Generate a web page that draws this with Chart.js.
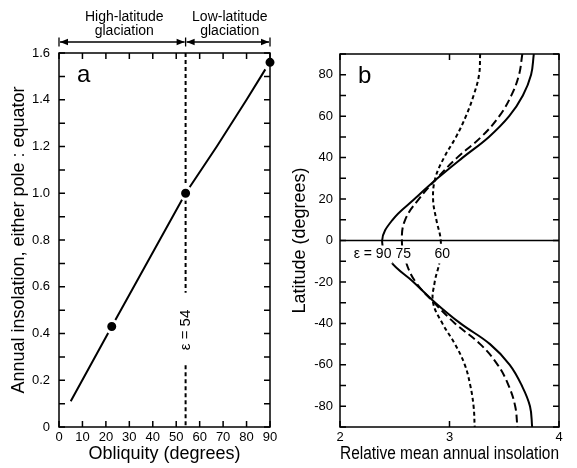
<!DOCTYPE html>
<html>
<head>
<meta charset="utf-8">
<script src="https://cdn.jsdelivr.net/npm/chart.js@4.4.0/dist/chart.umd.min.js"></script>
<style>
  html, body { margin: 0; padding: 0; background: #fff; }
  #wrap { position: relative; width: 577px; height: 468px; }
  #chartA { position: absolute; left: 0; top: 0; }
  #chartB { position: absolute; left: 285px; top: 0; }
</style>
</head>
<body>
<div id="wrap">
  <canvas id="chartA" width="285" height="468"></canvas>
  <canvas id="chartB" width="292" height="468"></canvas>
</div>
<script>
// panel a - pole:equator annual insolation vs obliquity
const obliquity = [5, 22.5, 54, 67.3, 80, 88];
const poleEquatorRatio = [0.11, 0.43, 1.0, 1.2, 1.4, 1.53];
const markedObliquity = [22.5, 54, 90];
const markedRatio = [0.43, 1.0, 1.56];
const criticalObliquity = 54;
const regimeBounds = [0, 54, 90];
const regimeLabels = [['High-latitude', 'glaciation'], ['Low-latitude', 'glaciation']];

// panel b - relative mean annual insolation vs latitude
const latitudes = [90, 80, 70, 60, 50, 40, 30, 20, 10, 0, -10, -20, -30, -40, -50, -60, -70, -80, -90];
const insolEps90 = [3.77, 3.745, 3.67, 3.545, 3.36, 3.12, 2.89, 2.68, 2.48, 2.385, 2.46, 2.67, 2.87, 3.10, 3.37, 3.55, 3.66, 3.735, 3.755];
const insolEps75 = [3.665, 3.635, 3.565, 3.455, 3.29, 3.07, 2.885, 2.72, 2.595, 2.565, 2.60, 2.69, 2.86, 3.05, 3.28, 3.44, 3.54, 3.60, 3.62];
const insolEps60 = [3.28, 3.27, 3.22, 3.15, 3.06, 2.95, 2.87, 2.85, 2.88, 2.92, 2.91, 2.865, 2.85, 2.935, 3.05, 3.14, 3.19, 3.22, 3.23];
const epsLabels = ['90', '75', '60'];

const FONT = '"Liberation Sans", Arial, Helvetica, sans-serif';
Chart.defaults.font.family = FONT;
Chart.defaults.color = '#000';

// box + inward ticks on all four sides
function drawFrame(chart) {
  const { ctx, chartArea: a, scales: { x, y } } = chart;
  const len = 6;
  ctx.save();
  ctx.strokeStyle = '#000';
  ctx.lineWidth = 1.5;
  ctx.strokeRect(a.left, a.top, a.width, a.height);
  ctx.beginPath();
  x.ticks.forEach(t => {
    const px = x.getPixelForValue(t.value);
    ctx.moveTo(px, a.bottom); ctx.lineTo(px, a.bottom - len);
    ctx.moveTo(px, a.top); ctx.lineTo(px, a.top + len);
  });
  y.ticks.forEach(t => {
    const py = y.getPixelForValue(t.value);
    ctx.moveTo(a.left, py); ctx.lineTo(a.left + len, py);
    ctx.moveTo(a.right, py); ctx.lineTo(a.right - len, py);
  });
  ctx.stroke();
  ctx.restore();
}

function panelLetter(chart, letter) {
  const { ctx, chartArea: a } = chart;
  ctx.save();
  ctx.font = '24px ' + FONT;
  ctx.fillStyle = '#000';
  ctx.textAlign = 'left';
  ctx.textBaseline = 'alphabetic';
  ctx.fillText(letter, a.left + 18, a.top + 28.5);
  ctx.restore();
}

const panelAPlugin = {
  id: 'panelA',
  beforeDatasetsDraw(chart) {
    const { ctx, chartArea: a, scales: { x, y } } = chart;
    const px = x.getPixelForValue(criticalObliquity);
    const labelY = y.getPixelForValue(0.415);
    const text = 'ε = ' + criticalObliquity;
    ctx.save();
    ctx.font = '15px ' + FONT;
    const half = ctx.measureText(text).width / 2;
    // dashed line, broken around the label
    ctx.strokeStyle = '#000';
    ctx.lineWidth = 2;
    ctx.setLineDash([4, 3]);
    ctx.beginPath();
    ctx.moveTo(px, a.top); ctx.lineTo(px, labelY - half - 17);
    ctx.moveTo(px, labelY + half + 15); ctx.lineTo(px, a.bottom);
    ctx.stroke();
    ctx.setLineDash([]);
    // rotated label
    ctx.translate(px, labelY);
    ctx.rotate(-Math.PI / 2);
    ctx.fillStyle = '#000';
    ctx.textAlign = 'center';
    ctx.textBaseline = 'middle';
    ctx.fillText(text, 0, 0);
    ctx.restore();
  },
  afterDatasetsDraw(chart) {
    drawFrame(chart);
    panelLetter(chart, 'a');
  },
  afterDraw(chart) {
    const { ctx, scales: { x } } = chart;
    const yLine = 42, cap = 4.5, head = 8, headW = 3.2;
    const px = regimeBounds.map(v => x.getPixelForValue(v));
    ctx.save();
    ctx.strokeStyle = '#000';
    ctx.fillStyle = '#000';
    ctx.lineWidth = 1.3;
    px.forEach(p => {
      ctx.beginPath(); ctx.moveTo(p, yLine - cap); ctx.lineTo(p, yLine + cap); ctx.stroke();
    });
    ctx.font = '14px ' + FONT;
    ctx.textAlign = 'center';
    ctx.textBaseline = 'alphabetic';
    for (let i = 0; i < px.length - 1; i++) {
      const l = px[i] + 1, r = px[i + 1] - 1;
      ctx.beginPath(); ctx.moveTo(l, yLine); ctx.lineTo(r, yLine); ctx.stroke();
      ctx.beginPath(); ctx.moveTo(l, yLine); ctx.lineTo(l + head, yLine - headW); ctx.lineTo(l + head, yLine + headW); ctx.closePath(); ctx.fill();
      ctx.beginPath(); ctx.moveTo(r, yLine); ctx.lineTo(r - head, yLine - headW); ctx.lineTo(r - head, yLine + headW); ctx.closePath(); ctx.fill();
      const cx = (px[i] + px[i + 1]) / 2 + 2;
      ctx.fillText(regimeLabels[i][0], cx, 21);
      ctx.fillText(regimeLabels[i][1], cx, 35);
    }
    ctx.restore();
  }
};

const panelBPlugin = {
  id: 'panelB',
  beforeDatasetsDraw(chart) {
    const { ctx, chartArea: a, scales: { y } } = chart;
    const py = y.getPixelForValue(0);
    ctx.save();
    ctx.strokeStyle = '#000';
    ctx.lineWidth = 1.3;
    ctx.beginPath(); ctx.moveTo(a.left, py); ctx.lineTo(a.right, py); ctx.stroke();
    ctx.restore();
  },
  afterDatasetsDraw(chart) {
    const { ctx, scales: { x, y } } = chart;
    const i0 = latitudes.indexOf(0);
    const series = [insolEps90, insolEps75, insolEps60];
    const ly = y.getPixelForValue(0) + 14;
    ctx.save();
    ctx.font = '14px ' + FONT;
    ctx.textBaseline = 'middle';
    let firstLeft = null;
    series.forEach((s, k) => {
      const cx = x.getPixelForValue(s[i0]) + 1.5;
      const w = ctx.measureText(epsLabels[k]).width;
      ctx.fillStyle = '#fff';
      ctx.fillRect(cx - w / 2 - 1, ly - 9, w + 2, 18);
      ctx.fillStyle = '#000';
      ctx.textAlign = 'center';
      ctx.fillText(epsLabels[k], cx, ly);
      if (k === 0) firstLeft = cx - w / 2;
    });
    ctx.textAlign = 'right';
    ctx.fillText('ε = ', firstLeft, ly);
    ctx.restore();
    drawFrame(chart);
    panelLetter(chart, 'b');
  }
};

new Chart(document.getElementById('chartA'), {
  type: 'line',
  data: {
    datasets: [
      {
        data: markedObliquity.map((v, i) => ({ x: v, y: markedRatio[i] })),
        showLine: false,
        pointRadius: 6,
        pointBackgroundColor: '#000',
        pointBorderColor: '#fff',
        pointBorderWidth: 3,
        clip: false
      },
      {
        data: obliquity.map((v, i) => ({ x: v, y: poleEquatorRatio[i] })),
        borderColor: '#000',
        borderWidth: 2,
        pointRadius: 0,
        tension: 0,
        fill: false
      }
    ]
  },
  options: {
    responsive: false,
    animation: false,
    devicePixelRatio: 1,
    layout: { padding: { top: 53, right: 15, left: 0, bottom: 0 } },
    plugins: { legend: { display: false }, tooltip: { enabled: false } },
    scales: {
      x: {
        type: 'linear', min: 0, max: 90,
        grid: { display: false, drawTicks: false }, border: { display: false },
        ticks: { stepSize: 10, autoSkip: false, maxRotation: 0, padding: 3, font: { size: 13 } },
        title: { display: true, text: 'Obliquity (degrees)', font: { size: 18 }, padding: { top: 0, bottom: 3 } },
        afterFit(s) { s.height = 41; }
      },
      y: {
        min: 0, max: 1.6,
        grid: { display: false, drawTicks: false }, border: { display: false },
        ticks: {
          stepSize: 0.1, autoSkip: false, maxTicksLimit: 100, padding: 9, font: { size: 13 },
          callback: v => (Math.round(v * 10) % 2 === 0) ? (Math.abs(v) < 1e-9 ? '0' : v.toFixed(1)) : ''
        },
        title: { display: true, text: 'Annual insolation, either pole : equator', font: { size: 18 }, padding: { top: 8, bottom: 0 } },
        afterFit(s) { s.width = 59; }
      }
    }
  },
  plugins: [panelAPlugin]
});

function curve(values, dash) {
  return {
    data: latitudes.map((lat, i) => ({ x: values[i], y: lat })),
    borderColor: '#000',
    borderWidth: 2,
    borderDash: dash,
    pointRadius: 0,
    tension: 0.4,
    fill: false
  };
}

new Chart(document.getElementById('chartB'), {
  type: 'line',
  data: {
    datasets: [
      curve(insolEps90, []),
      curve(insolEps75, [8, 4]),
      curve(insolEps60, [4, 3])
    ]
  },
  options: {
    responsive: false,
    animation: false,
    devicePixelRatio: 1,
    layout: { padding: { top: 54, right: 18, left: 0, bottom: 0 } },
    plugins: { legend: { display: false }, tooltip: { enabled: false } },
    scales: {
      x: {
        type: 'linear', min: 2, max: 4,
        grid: { display: false, drawTicks: false }, border: { display: false },
        ticks: { stepSize: 1, autoSkip: false, maxRotation: 0, padding: 3, font: { size: 13 } },
        title: { display: true, text: 'Relative mean annual insolation', font: { size: 18 }, padding: { top: 0, bottom: 3 } },
        afterFit(s) { s.height = 41; }
      },
      y: {
        min: -90, max: 90,
        grid: { display: false, drawTicks: false }, border: { display: false },
        ticks: {
          stepSize: 10, autoSkip: false, maxTicksLimit: 100, padding: 7, font: { size: 13 },
          callback: v => (v % 20 === 0) ? String(v) : ''
        },
        title: { display: true, text: 'Latitude (degrees)', font: { size: 18 }, padding: { top: 4, bottom: 0 } },
        afterFit(s) { s.width = 55; }
      }
    }
  },
  plugins: [panelBPlugin]
});
</script>
</body>
</html>
